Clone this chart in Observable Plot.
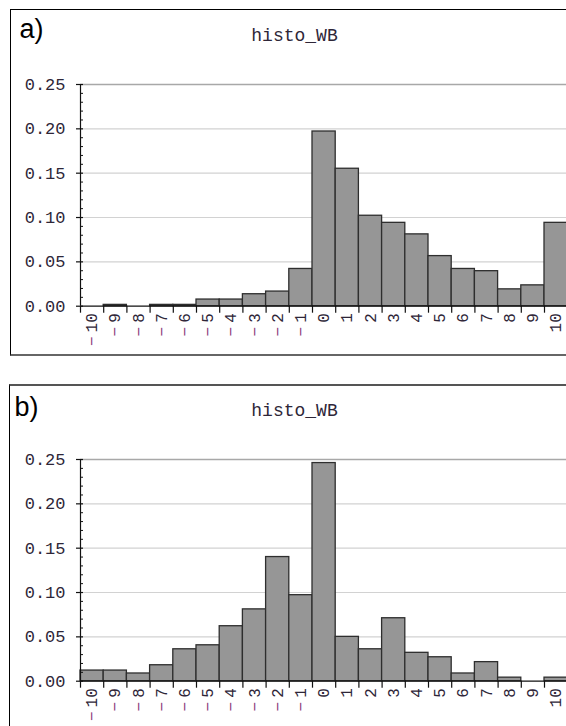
<!DOCTYPE html>
<html>
<head>
<meta charset="utf-8">
<script src="https://cdn.jsdelivr.net/npm/d3@7"></script>
<script src="https://cdn.jsdelivr.net/npm/@observablehq/plot@0.6"></script>
<style>
  html, body { margin: 0; padding: 0; background: #fff; }
  #page { position: relative; width: 566px; height: 726px; overflow: hidden; background: #fff; }
  .frame { position: absolute; box-sizing: border-box; }
  .panel { position: absolute; left: 0; }
  .panel svg { overflow: hidden; }
</style>
</head>
<body>
<div id="page">
  <div class="frame" style="left:10px; top:9px; width:600px; height:347px; border-left:1px solid #000; border-top:1px solid #000; border-bottom:2px solid #666;"></div>
  <div class="frame" style="left:9px; top:384px; width:600px; height:400px; border-left:1px solid #000; border-top:2px solid #555;"></div>
  <div class="panel" id="pa" style="top:0px;"></div>
  <div class="panel" id="pb" style="top:375px;"></div>
</div>
<script>
// ---- data ----
const bins = [-10, -9, -8, -7, -6, -5, -4, -3, -2, -1, 0, 1, 2, 3, 4, 5, 6, 7, 8, 9, 10];
const valuesA = [0, 0.0015, 0, 0.0015, 0.0015, 0.0075, 0.0075, 0.0135, 0.0165, 0.042, 0.197, 0.155, 0.102, 0.094, 0.081, 0.0565, 0.042, 0.0395, 0.019, 0.0235, 0.094];
const valuesB = [0.012, 0.012, 0.0087, 0.018, 0.036, 0.0405, 0.062, 0.081, 0.140, 0.097, 0.246, 0.050, 0.036, 0.071, 0.032, 0.027, 0.0087, 0.0215, 0.004, 0, 0.004];
const yTicks = [0, 0.05, 0.10, 0.15, 0.20, 0.25];
const yMinor = [0.01, 0.02, 0.03, 0.04, 0.06, 0.07, 0.08, 0.09, 0.11, 0.12, 0.13, 0.14, 0.16, 0.17, 0.18, 0.19, 0.21, 0.22, 0.23, 0.24];
const panelLabels = ["a)", "b)"];
const title = "histo_WB";

const mono = "'Liberation Mono', 'DejaVu Sans Mono', monospace";
const sans = "'Liberation Sans', Arial, sans-serif";
const fmtY = d3.format(".2f");
const fmtX = d => (d < 0 ? "\u2212" + Math.abs(d) : String(d));

function panel(values, label, labelX, labelY) {
  const data = bins.map((b, i) => ({bin: b, v: values[i]}));
  const edges = d3.range(bins.length + 1).map(i => bins[0] - 0.5 + i);
  const x0 = bins[0] - 0.5;
  const xEnd = bins[bins.length - 1] + 0.5;
  const svg = Plot.plot({
    width: 566,
    height: 375,
    x: {domain: [x0, xEnd], range: [80, 567.2], axis: null},
    y: {domain: [0, 0.25], range: [305.7, 84], axis: null},
    style: {background: "transparent"},
    marks: [
      Plot.ruleY(yTicks.filter(d => d > 0 && d < 0.25), {x1: x0, x2: xEnd, stroke: "#d2d2d2", strokeWidth: 1.2}),
      Plot.ruleY([0.25], {x1: x0, x2: xEnd, stroke: "#a8a8a8", strokeWidth: 1.3}),
      Plot.rect(data.filter(d => d.v > 0), {x1: d => d.bin - 0.5, x2: d => d.bin + 0.5, y1: 0, y2: d => d.v, fill: "#969696", stroke: "#2e2e2e", strokeWidth: 1.3}),
      Plot.ruleY([0], {x1: x0, x2: xEnd, stroke: "#111", strokeWidth: 1.2}),
      Plot.ruleX(edges, {x: d => d, y1: 0, y2: 0, insetBottom: -7, stroke: "#111", strokeWidth: 1.2}),
      Plot.ruleX([x0], {y1: 0, y2: 0.25, stroke: "#111", strokeWidth: 1.2}),
      Plot.ruleY(yTicks, {x1: x0, x2: x0, insetLeft: -4, insetRight: -3, stroke: "#111", strokeWidth: 1.2}),
      Plot.ruleY(yMinor, {x1: x0, x2: x0, insetRight: -3, stroke: "#111", strokeWidth: 1}),
      Plot.text(yTicks, {x: x0, y: d => d, text: d => fmtY(d), textAnchor: "end", dx: -15, fontSize: 17, fontFamily: mono, fill: "#2e2638"}),
      Plot.text(bins, {x: d => d, y: 0, text: fmtX, rotate: -90, textAnchor: "end", dy: 7, fontSize: 16, fontFamily: mono, fill: "#2e2638", className: "xlab"}),
      Plot.text([title], {x: () => x0, y: () => 0.25, text: d => d, dx: 214, dy: -49, fontSize: 18, fontFamily: mono, fill: "#2e2638", textAnchor: "middle"}),
      Plot.text([label], {x: () => x0, y: () => 0.25, text: d => d, dx: labelX, dy: labelY, fontSize: 27, fontFamily: sans, fill: "#000", textAnchor: "start", lineAnchor: "bottom"})
    ]
  });
  // widen the gap after the minus sign, as in the reference rendering
  d3.select(svg).selectAll(".xlab text").each(function() {
    const t = this.textContent;
    if (t.startsWith("\u2212")) {
      const el = d3.select(this);
      el.text(null);
      el.append("tspan").attr("fill", "#8e3a7c").text("\u2212");
      el.append("tspan").attr("dx", 4).text(t.slice(1));
    }
  });
  return svg;
}

document.getElementById("pa").append(panel(valuesA, panelLabels[0], -61, -47));
document.getElementById("pb").append(panel(valuesB, panelLabels[1], -66, -44));
</script>
</body>
</html>
